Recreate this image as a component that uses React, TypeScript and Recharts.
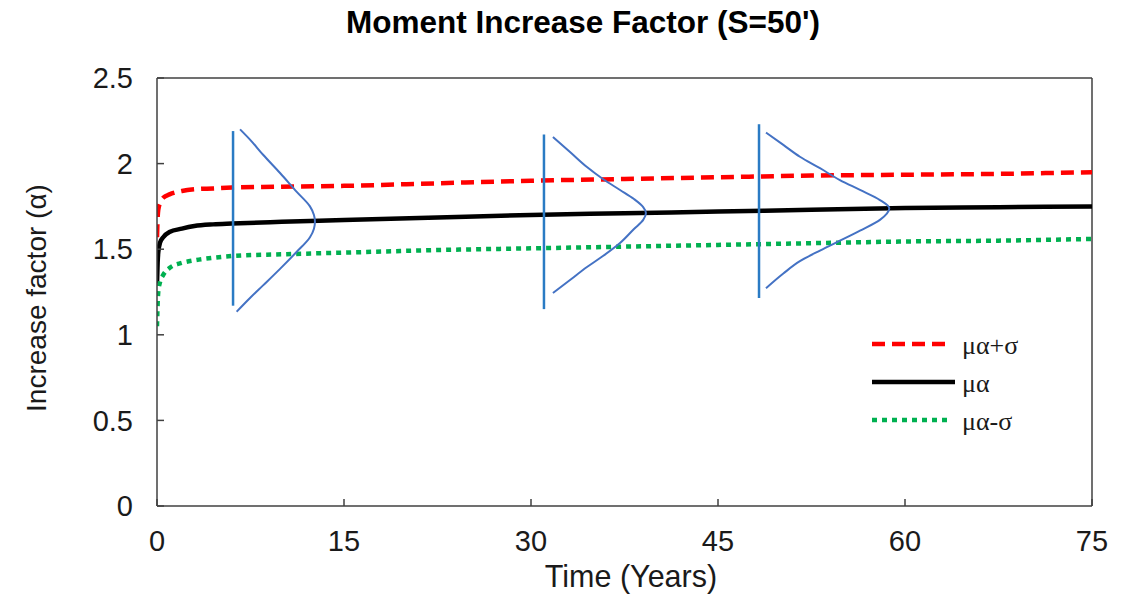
import React from "react"
import { LineChart, Line, XAxis, YAxis, ReferenceLine, Legend } from "recharts"

// main series
const timeYears = [0, 0.05, 0.1, 0.25, 0.5, 1, 2, 3, 4.5, 6, 10, 15, 22.5, 30, 37.5, 45, 52.5, 60, 67.5, 75]
const upperFactor = [1.57, 1.68, 1.73, 1.77, 1.8, 1.82, 1.84, 1.85, 1.855, 1.86, 1.865, 1.87, 1.885, 1.9, 1.91, 1.92, 1.93, 1.935, 1.94, 1.95]
const meanFactor = [1.3, 1.42, 1.48, 1.54, 1.57, 1.6, 1.62, 1.635, 1.645, 1.65, 1.66, 1.67, 1.685, 1.7, 1.71, 1.72, 1.73, 1.74, 1.745, 1.75]
const lowerFactor = [1.05, 1.18, 1.25, 1.31, 1.35, 1.39, 1.42, 1.435, 1.45, 1.46, 1.47, 1.48, 1.495, 1.505, 1.515, 1.525, 1.535, 1.545, 1.55, 1.56]

const xTicks = [0, 15, 30, 45, 60, 75]
const yTicks = [0, 0.5, 1, 1.5, 2, 2.5]

// distribution sketches, traced top to bottom (x = time, y = factor)
const bellOneTime = [6.66, 7.46, 8.53, 9.87, 11.21, 12.27, 12.59, 12.67, 12.59, 12.27, 11.21, 9.87, 8.53, 7.46, 6.39]
const bellOneValue = [2.2, 2.14, 2.05, 1.945, 1.835, 1.75, 1.7, 1.66, 1.62, 1.57, 1.485, 1.385, 1.29, 1.215, 1.135]
const bellTwoTime = [31.76, 33.13, 34.49, 35.77, 37.14, 38.26, 39.0, 39.22, 39.0, 38.26, 37.14, 35.77, 34.49, 33.13, 31.76]
const bellTwoValue = [2.155, 2.068, 1.98, 1.91, 1.846, 1.793, 1.746, 1.711, 1.671, 1.618, 1.536, 1.46, 1.396, 1.32, 1.244]
const bellThreeTime = [48.85, 50.24, 51.57, 53.18, 54.78, 56.39, 57.99, 58.74, 57.99, 56.39, 54.78, 53.18, 51.57, 50.24, 48.85]
const bellThreeValue = [2.181, 2.109, 2.04, 1.973, 1.904, 1.846, 1.787, 1.739, 1.671, 1.608, 1.55, 1.492, 1.43, 1.358, 1.272]

const stemTimes = [6.1, 31.04, 48.29]
const stemTops = [2.19, 2.17, 2.23]
const stemBottoms = [1.17, 1.15, 1.215]

const legendLabels = ["μα+σ", "μα", "μα-σ"]

const rows = timeYears.map((t, i) => ({
  t,
  hi: upperFactor[i],
  mean: meanFactor[i],
  lo: lowerFactor[i],
}))

const toPoints = (ts: number[], vs: number[]) => ts.map((t, i) => ({ t, v: vs[i] }))
const bells = [
  toPoints(bellOneTime, bellOneValue),
  toPoints(bellTwoTime, bellTwoValue),
  toPoints(bellThreeTime, bellThreeValue),
]
const stems = stemTimes.map((t, i) => [
  { t, v: stemTops[i] },
  { t, v: stemBottoms[i] },
])

const axisColor = "#404040"
const tickStyle = { fontFamily: "Liberation Sans, Arial, sans-serif", fontSize: 29, fill: "#1a1a1a" }

const legendStyles = [
  { color: "#ff0000", dash: "13 7", x2: 82 },
  { color: "#000000", dash: undefined, x2: 89 },
  { color: "#00b050", dash: "5 5", x2: 82 },
]

function LegendBox() {
  return (
    <svg width={200} height={115}>
      {legendLabels.map((label, i) => {
        const s = legendStyles[i]
        const y = 19 + i * 38
        return (
          <g key={label}>
            <line x1={6} x2={s.x2} y1={y} y2={y} stroke={s.color} strokeWidth={4.5} strokeDasharray={s.dash} />
            <text x={96} y={y + 10} fontFamily="Liberation Serif, Times New Roman, serif" fontSize={26} fill="#1a1a1a">
              {label}
            </text>
          </g>
        )
      })}
    </svg>
  )
}

export default function App() {
  return (
    <div style={{ position: "relative", width: 1135, height: 602, background: "#fff" }}>
      <style>{"body{margin:0}"}</style>
      <div
        style={{
          position: "absolute",
          left: 0,
          top: 7,
          width: 1166,
          textAlign: "center",
          fontFamily: "Liberation Sans, Arial, sans-serif",
          fontWeight: 700,
          fontSize: 31.5,
          lineHeight: "31px",
          color: "#000",
        }}
      >
        Moment Increase Factor (S=50')
      </div>
      <LineChart width={1135} height={602} data={rows} margin={{ top: 78, right: 43, bottom: 66, left: 97 }}>
        <XAxis
          dataKey="t"
          type="number"
          domain={[0, 75]}
          ticks={xTicks}
          allowDataOverflow
          height={30}
          stroke={axisColor}
          strokeWidth={1.5}
          tickSize={-7}
          tickMargin={31}
          tick={tickStyle}
        />
        <YAxis
          type="number"
          domain={[0, 2.5]}
          ticks={yTicks}
          allowDataOverflow
          width={60}
          stroke={axisColor}
          strokeWidth={1.5}
          tickSize={-7}
          tickMargin={31}
          tick={tickStyle}
        />
        <ReferenceLine y={2.5} stroke={axisColor} strokeWidth={1.5} />
        <ReferenceLine x={75} stroke={axisColor} strokeWidth={1.5} />
        <Line dataKey="hi" type="monotone" stroke="#ff0000" strokeWidth={4.5} strokeDasharray="13 7" dot={false} isAnimationActive={false} />
        <Line dataKey="mean" type="monotone" stroke="#000000" strokeWidth={4.5} dot={false} isAnimationActive={false} />
        <Line dataKey="lo" type="monotone" stroke="#00b050" strokeWidth={4.5} strokeDasharray="5 5" dot={false} isAnimationActive={false} />
        {stems.map((d, i) => (
          <Line key={"stem" + i} data={d} dataKey="v" type="linear" stroke="#2a7bc4" strokeWidth={2.5} dot={false} isAnimationActive={false} />
        ))}
        {bells.map((d, i) => (
          <Line key={"bell" + i} data={d} dataKey="v" type="monotoneY" stroke="#4472c4" strokeWidth={2} dot={false} isAnimationActive={false} />
        ))}
        <Legend
          layout="horizontal"
          align="center"
          verticalAlign="middle"
          content={() => <LegendBox />}
          wrapperStyle={{ position: "absolute", left: 866, top: 325, width: 200, bottom: "auto" }}
        />
      </LineChart>
      <div
        style={{
          position: "absolute",
          left: 0,
          top: 561,
          width: 1262,
          textAlign: "center",
          fontFamily: "Liberation Sans, Arial, sans-serif",
          fontSize: 30.5,
          lineHeight: "30px",
          color: "#1a1a1a",
        }}
      >
        Time (Years)
      </div>
      <div
        style={{
          position: "absolute",
          left: 37 - 200,
          top: 298 - 15,
          width: 400,
          height: 30,
          textAlign: "center",
          fontFamily: "Liberation Sans, Arial, sans-serif",
          fontSize: 28,
          lineHeight: "30px",
          color: "#1a1a1a",
          transform: "rotate(-90deg)",
        }}
      >
        Increase factor (α)
      </div>
    </div>
  )
}
